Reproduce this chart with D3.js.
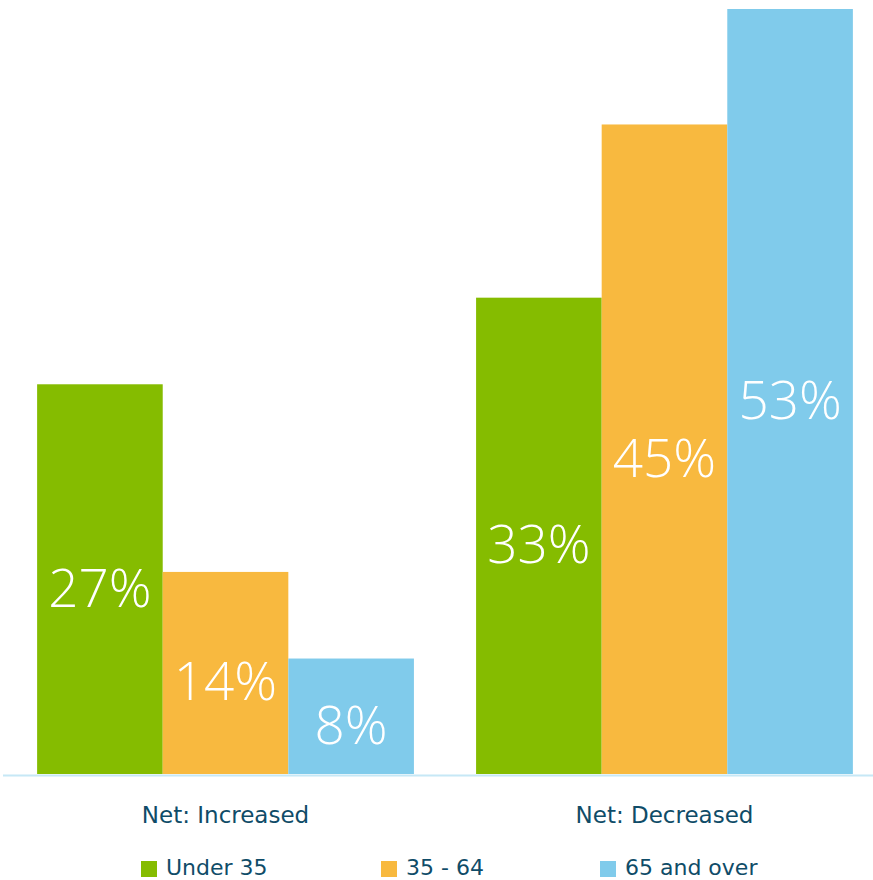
<!DOCTYPE html>
<html>
<head>
<meta charset="utf-8">
<script src="https://cdn.jsdelivr.net/npm/d3@7"></script>
<style>
  html, body { margin: 0; padding: 0; background: #fff; }
  svg { display: block; font-family: "DejaVu Sans", sans-serif; }
</style>
</head>
<body>
<svg id="chart" width="873" height="880"></svg>
<script>
// Share of respondents by age group, for each net change
const categories = ["Net: Increased", "Net: Decreased"];
const seriesNames = ["Under 35", "35 - 64", "65 and over"];
const under35 = [27, 33];
const age35to64 = [14, 45];
const age65plus = [8, 53];
const seriesValues = [under35, age35to64, age65plus];
const colors = ["#85bc00", "#f8b93f", "#80cbeb"];

const svg = d3.select("#chart");
const baseY = 774;
const labelColor = "#0f4c68";

const x0 = d3.scaleBand()
  .domain(categories)
  .range([2, 888])
  .paddingInner(0.1416)
  .paddingOuter(0.08);

const x1 = d3.scaleBand()
  .domain(seriesNames)
  .range([0, x0.bandwidth()])
  .padding(0);

const y = d3.scaleLinear()
  .domain([0, 53])
  .range([baseY, 9]);

const rows = categories.map((c, i) => ({
  category: c,
  values: seriesNames.map((s, j) => ({ series: s, idx: j, value: seriesValues[j][i] }))
}));

const groups = svg.selectAll("g.group")
  .data(rows)
  .join("g")
  .attr("class", "group")
  .attr("transform", d => `translate(${x0(d.category)},0)`);

groups.selectAll("rect")
  .data(d => d.values)
  .join("rect")
  .attr("x", d => x1(d.series))
  .attr("y", d => y(d.value))
  .attr("width", x1.bandwidth())
  .attr("height", d => y(0) - y(d.value))
  .attr("fill", d => colors[d.idx]);

groups.selectAll("text.value")
  .data(d => d.values)
  .join("text")
  .attr("class", "value")
  .attr("x", d => x1(d.series) + x1.bandwidth() / 2)
  .attr("y", d => (y(d.value) + y(0)) / 2 + 7)
  .attr("text-anchor", "middle")
  .attr("dominant-baseline", "central")
  .attr("fill", "#fff")
  .attr("font-family", "\"Open Sans\", sans-serif")
  .attr("font-size", 53)
  .attr("font-weight", 300)
  .text(d => d.value + "%");

// baseline
svg.append("line")
  .attr("x1", 3).attr("x2", 873)
  .attr("y1", baseY + 1.5).attr("y2", baseY + 1.5)
  .attr("stroke", "#c6e8f6")
  .attr("stroke-width", 2);

// category axis
const xAxis = d3.axisBottom(x0).tickSize(0).tickPadding(0);
const axisG = svg.append("g")
  .attr("transform", `translate(0,${baseY})`)
  .call(xAxis);
axisG.select(".domain").remove();
axisG.selectAll("text")
  .attr("y", 49)
  .attr("dy", null)
  .attr("fill", labelColor)
  .attr("font-size", 23)
  .attr("font-family", "\"DejaVu Sans\", sans-serif");

// legend
const legendX = [141, 381, 600];
const legend = svg.append("g")
  .selectAll("g")
  .data(seriesNames)
  .join("g")
  .attr("transform", (d, i) => `translate(${legendX[i]},861)`);
legend.append("rect")
  .attr("width", 16).attr("height", 16)
  .attr("fill", (d, i) => colors[i]);
legend.append("text")
  .attr("x", 25).attr("y", 14)
  .attr("fill", labelColor)
  .attr("font-size", 22)
  .text(d => d);
</script>
</body>
</html>
